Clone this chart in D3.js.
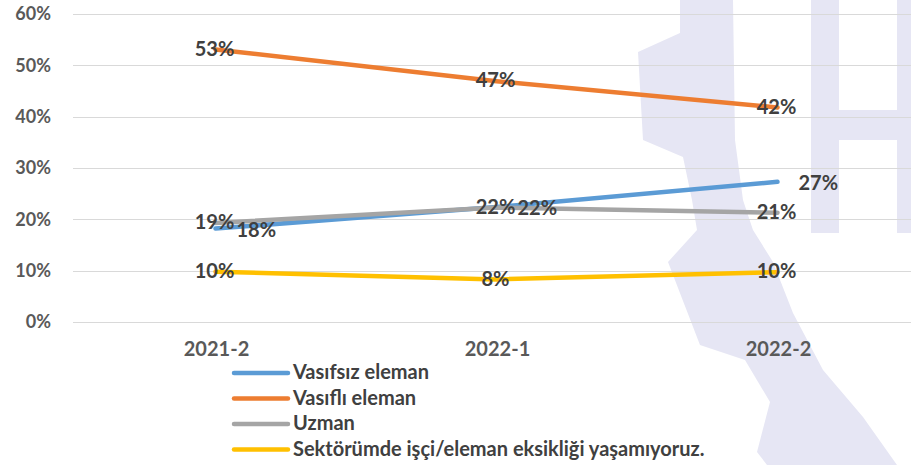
<!DOCTYPE html>
<html>
<head>
<meta charset="utf-8">
<script src="https://cdn.jsdelivr.net/npm/d3@7"></script>
<style>
  body { margin: 0; background: #fff; }
  text { font-family: Lato, "Open Sans", sans-serif; font-weight: bold; }
</style>
</head>
<body>
<div id="container"></div>
<script>
// veriler
var categories = ["2021-2", "2022-1", "2022-2"];
var seriesNames = ["Vasıfsız eleman", "Vasıflı eleman", "Uzman", "Sektörümde işçi/eleman eksikliği yaşamıyoruz."];
var vasifsiz = [0.182, 0.224, 0.273];
var vasifli = [0.531, 0.469, 0.418];
var uzman = [0.193, 0.223, 0.213];
var eksiklikYok = [0.098, 0.083, 0.097];
var yTicks = [0, 0.1, 0.2, 0.3, 0.4, 0.5, 0.6];

var colors = ["#5b9bd5", "#ed7d31", "#a5a5a5", "#ffc000"];
var allSeries = [vasifsiz, vasifli, uzman, eksiklikYok];
// label placement like excel: blue ones to the right, the rest centred
var labelPos = ["right", "center", "center", "center"];

var width = 911, height = 465;
var svg = d3.select("div#container").append("svg").attr("width", width).attr("height", height);

// arka plan filigran (light watermark shape)
var wm = svg.append("g").attr("fill", "#e6e6f4");
wm.append("path").attr("d",
  "M680,0 L733,0 L735,140 L743,200 L753,230 L773,262 L793,313 L823,370 L863,417 L897,465 " +
  "L767,465 L757,452 L770,402 L745,360 L700,345 L668,262 L697,230 L692,200 L683,157 L643,140 L638,52 L680,33 Z");
wm.append("rect").attr("x", 811).attr("y", 0).attr("width", 28).attr("height", 233);
wm.append("rect").attr("x", 839).attr("y", 110).attr("width", 58).attr("height", 30);
wm.append("rect").attr("x", 897).attr("y", 0).attr("width", 14).attr("height", 233);

var xScale = d3.scaleBand().domain(categories).range([75, 918]);
var yScale = d3.scaleLinear().domain([0, 0.6]).range([322, 14]);
var cx = function(c) { return xScale(c) + xScale.bandwidth() / 2; };

// yatay ızgara çizgileri
svg.append("g").selectAll("line").data(yTicks).enter().append("line")
  .attr("x1", 73).attr("x2", width)
  .attr("y1", function(d) { return Math.round(yScale(d)) + 0.5; })
  .attr("y2", function(d) { return Math.round(yScale(d)) + 0.5; })
  .attr("stroke", "#d9d9d9").attr("stroke-width", 1);

// y ekseni etiketleri
var yAxis = d3.axisLeft(yScale).tickValues(yTicks).tickFormat(d3.format(".0%")).tickSize(0).tickPadding(0);
var gy = svg.append("g").attr("transform", "translate(51,0)").call(yAxis);
gy.select(".domain").remove();
gy.selectAll("text").style("font-size", "18px").attr("fill", "#595959")
  .style("font-family", "Lato, sans-serif").style("font-weight", "bold");

// x ekseni etiketleri
var xAxis = d3.axisBottom(xScale).tickSize(0).tickPadding(0);
var gx = svg.append("g").attr("transform", "translate(1,342)").call(xAxis);
gx.select(".domain").remove();
gx.selectAll("text").style("font-size", "20px").attr("fill", "#595959")
  .style("font-family", "Lato, sans-serif").style("font-weight", "bold");

var line = d3.line()
  .x(function(d, i) { return cx(categories[i]); })
  .y(function(d) { return yScale(d); });

var chart = svg.append("g");
allSeries.forEach(function(s, k) {
  chart.append("path").datum(s)
    .attr("d", line)
    .attr("fill", "none")
    .attr("stroke", colors[k])
    .attr("stroke-width", 4.5)
    .attr("stroke-linecap", "round")
    .attr("stroke-linejoin", "round");
});

// veri etiketleri
allSeries.forEach(function(s, k) {
  chart.append("g").selectAll("text").data(s).enter().append("text")
    .attr("x", function(d, i) { return labelPos[k] == "right" ? cx(categories[i]) + 21 : cx(categories[i]) - 1; })
    .attr("y", function(d) { return yScale(d) + (labelPos[k] == "right" ? 3 : 1); })
    .attr("text-anchor", labelPos[k] == "right" ? "start" : "middle")
    .attr("dominant-baseline", "middle")
    .style("font-size", "20px")
    .attr("fill", "#404040")
    .text(function(d) { return Math.round(d * 100) + "%"; });
});

// gösterge
var legend = svg.append("g").attr("transform", "translate(234,373)");
var item = legend.selectAll("g").data(seriesNames).enter().append("g")
  .attr("transform", function(d, i) { return "translate(0," + (i * 25.5) + ")"; });
item.append("line").attr("x1", 0).attr("x2", 54).attr("y1", 0).attr("y2", 0)
  .attr("stroke", function(d, i) { return colors[i]; })
  .attr("stroke-width", 4.5).attr("stroke-linecap", "round");
item.append("text").attr("x", 59).attr("y", 1)
  .attr("dominant-baseline", "middle")
  .style("font-size", "20px").attr("fill", "#404040")
  .text(function(d) { return d; });
</script>
</body>
</html>
